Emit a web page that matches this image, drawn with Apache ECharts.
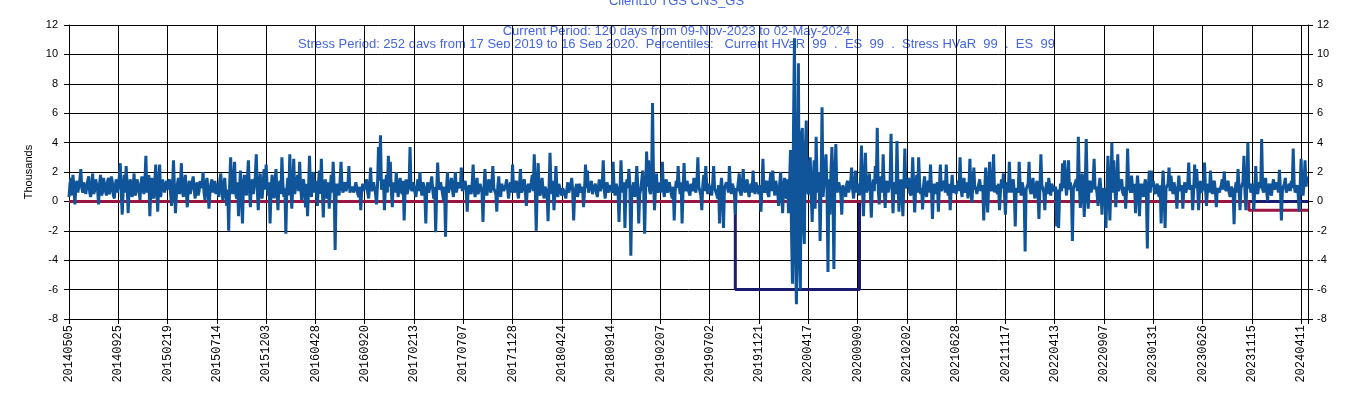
<!DOCTYPE html>
<html>
<head>
<meta charset="utf-8">
<script src="https://cdn.jsdelivr.net/npm/echarts@6/dist/echarts.min.js"></script>
<style>
  html, body { margin: 0; padding: 0; background: #fff; }
  #chart { width: 1353px; height: 398px; }
</style>
</head>
<body>
<div id="chart"></div>
<script>
// x axis runs in business days; one label every 100 days
const TICK_LABELS = ['20140505', '20140925', '20150219', '20150714', '20151203', '20160428',
  '20160920', '20170213', '20170707', '20171128', '20180424', '20180914', '20190207',
  '20190702', '20191121', '20200417', '20200909', '20210202', '20210628', '20211117',
  '20220413', '20220907', '20230131', '20230626', '20231115', '20240411'];
const DAYS_PER_TICK = 100;
const DAYS_PER_POINT = 2;
const TOTAL_DAYS = 2514;

// P&L in thousands, one value per 2 business days (50 values per label interval)
const pnl = [
  0.3,1.2, 1.6,0.4, 1.8,1.0, -0.2,1.1, 1.4,0.6, 0.5,1.5, 2.2,0.9, 0.6,1.3, 1.2,0.5, 0.4,1.4, 1.7,0.6, 0.3,1.0, 1.9,0.5, 0.7,1.5, 1.6,0.8, -0.2,1.2, 1.8,0.4, 0.6,1.6, 1.2,0.7, 0.4,1.3, 1.6,0.5, 0.8,1.7, 1.3,0.4, 0.2,1.1, 1.5,0.6,
  1.0,1.7, 2.6,0.5, -0.9,0.8, 1.8,0.6, 2.4,1.1, -0.8,0.7, 1.5,1.2, 0.3,0.9, 1.9,0.4, 0.6,1.5, 1.4,0.8, 0.1,1.2, 1.7,0.9, 0.5,1.4, 3.1,0.6, 0.9,1.8, -1.0,0.7, 1.6,0.4, 0.2,1.3, 2.5,0.8, -0.7,1.1, 2.5,0.3, 0.4,1.5, 1.6,0.6, 0.7,1.4,
  0.8,1.3, 1.5,0.6, -0.3,1.0, 2.8,0.9, -0.8,0.5, 1.2,1.6, 0.5,1.1, 2.6,0.7, 0.3,1.2, 1.8,0.6, -0.4,0.9, 1.4,0.5, 0.6,1.3, 1.7,0.8, 0.2,1.0, 1.3,0.4, 0.7,1.4, 1.5,0.9, 2.0,0.6, 0.1,1.2, 1.6,0.8, -0.5,0.6, 1.2,1.5, 0.6,1.0, 1.4,0.5,
  1.2,0.7, 0.3,1.4, 1.9,0.8, 0.1,1.1, 1.6,0.5, -0.3,0.8, -2.0,1.2, 3.0,1.0, 0.5,1.5, 2.7,0.6, 0.2,1.3, -1.0,0.9, 2.1,0.4, -1.5,1.1, 1.8,0.7, 0.4,1.6, 2.8,0.9, -0.4,1.2, 1.5,0.5, 0.6,1.7, 3.2,0.8, -0.6,1.0, 1.9,0.4, 0.2,1.3, 2.2,0.8,
  2.5,1.0, 0.4,1.3, -1.5,0.7, 1.8,0.9, 0.2,1.4, 2.2,0.6, -0.6,1.1, 1.4,0.5, 3.0,1.2, 0.3,0.9, -2.2,0.8, 1.6,0.4, 3.2,1.1, -0.5,0.9, 2.9,0.5, 0.6,1.4, 1.8,0.7, 2.7,1.0, 0.1,1.3, 1.5,0.6, -0.4,1.2, -1.0,0.8, 3.1,0.9, 0.3,1.5, 2.0,0.6,
  1.4,0.6, -0.3,1.2, 2.1,0.5, 2.9,0.8, -1.1,0.9, 1.5,0.4, 0.2,1.3, -0.5,0.7, 1.8,0.6, 2.7,1.0, -3.3,0.5, 1.2,0.8, 0.4,1.4, 2.7,0.9, 0.6,1.1, 1.3,0.7, 0.8,1.2, 2.4,0.6, 0.5,1.0, 1.1,0.6, 0.7,1.3, 1.4,0.5, 0.3,1.0, -0.6,0.8, 1.2,0.7,
  0.8,1.2, 1.5,0.6, 0.2,1.0, 2.3,0.7, 0.6,1.3, 1.4,0.5, -0.2,1.1, 3.7,1.4, 4.5,0.8, 0.9,1.5, -0.6,0.9, 1.8,0.6, 3.1,1.0, 2.7,0.7, -0.4,1.3, 1.2,0.6, 2.0,0.9, 0.3,1.2, 1.6,0.7, 0.5,1.4, -1.3,0.8, 1.5,0.5, 0.4,1.1, 3.7,0.9, 0.7,1.3,
  1.2,0.6, 0.3,1.1, 1.5,0.7, 2.0,0.9, 0.4,1.3, 1.1,0.5, -1.5,0.8, 1.3,0.6, 0.6,1.2, 1.7,0.8, 0.2,1.0, -2.1,0.7, 2.65,1.1, 0.8,1.3, 1.4,0.5, 0.1,1.0, -2.4,0.9, 2.0,0.6, 0.5,1.2, 1.6,0.8, 0.3,1.1, 2.0,0.6, 0.7,1.3, 1.4,0.9, 2.3,0.7,
  0.9,1.1, 1.4,0.6, -0.7,0.9, 1.1,0.7, 0.5,1.2, 2.5,0.8, 0.3,1.0, 1.6,0.5, 0.8,1.2, 1.3,0.6, -1.4,0.9, 2.2,0.7, 0.4,1.1, 1.5,0.8, 0.6,1.3, 2.4,0.9, 1.0,0.5, -0.7,1.0, 1.7,0.6, 0.3,1.2, 1.2,0.7, 0.6,1.1, 1.5,0.8, 0.2,1.0, 1.3,0.6,
  2.5,0.9, 0.6,1.2, 1.4,0.7, 0.2,1.1, 2.2,0.6, 0.8,1.3, 1.5,0.5, -0.3,0.9, 1.2,0.6, 0.5,1.3, 1.8,0.7, 3.2,1.0, -2.0,0.8, 2.6,0.6, 0.4,1.2, 1.6,0.7, 0.2,1.0, 1.1,0.6, -1.35,0.9, 3.3,1.1, 0.5,1.4, -0.6,0.7, 2.4,0.9, 0.3,1.2, 1.2,0.6,
  0.4,0.9, 1.0,0.5, 0.2,0.8, 1.3,0.6, 0.6,1.1, 1.6,0.7, -1.3,0.5, 0.9,1.2, 0.3,0.8, 1.2,0.6, 0.5,1.0, -0.4,0.7, 2.5,0.9, 2.1,0.6, 0.6,1.1, 1.4,0.5, 0.8,1.0, 1.2,0.6, 0.3,0.9, 1.5,0.7, 0.6,1.2, 2.8,0.8, 0.2,1.0, 1.3,0.6, 0.7,1.1,
  1.0,0.6, 2.7,0.9, 0.4,1.2, 1.3,0.7, -1.4,0.8, 2.8,1.0, 0.6,1.3, -1.8,0.7, 1.5,0.9, 2.2,1.2, -3.7,0.6, 1.0,1.3, 0.3,0.9, 2.4,1.1, -1.5,0.5, 0.8,1.4, 2.1,0.9, -2.2,0.6, 3.4,1.0, 2.8,0.7, 0.5,1.2, 6.7,1.6, -0.6,0.8, 1.9,0.6, 0.9,1.3,
  0.6,1.1, 2.7,0.8, 0.3,1.2, 1.5,0.6, 0.8,1.3, 1.2,0.5, 0.2,1.0, -1.3,0.7, 1.4,0.9, 2.4,1.1, 0.5,1.3, -1.5,0.8, 2.6,0.9, 0.7,1.4, 1.3,0.6, 0.4,1.2, 1.1,0.7, 1.6,0.9, 0.6,1.3, 3.0,1.0, 0.9,0.4, -0.6,1.1, 1.8,0.7, 2.4,1.0, 0.5,1.2,
  1.3,0.7, 0.4,1.2, 2.4,0.9, 1.0,0.5, 0.2,1.1, -1.5,0.8, 1.6,0.6, -1.8,0.9, 0.8,1.3, 1.4,0.6, 2.4,1.0, 0.5,1.2, 1.2,0.7, -0.9,0.9, 0.7,1.3, 1.9,0.6, 0.4,1.1, 2.2,0.8, 0.6,1.2, 1.5,0.7, 0.3,1.0, 1.2,0.6, 2.1,0.9, 0.5,1.3, 1.3,0.7,
  0.5,1.1, -0.7,0.9, 2.9,0.8, 0.6,1.2, 1.4,0.5, 0.3,1.3, 2.0,0.7, 2.1,1.0, 0.4,1.4, 1.5,0.6, -0.3,1.2, 2.0,0.6, -0.8,1.0, 1.6,0.4, 0.2,1.5, -0.8,1.2, 3.5,-2.0, -5.6,4.9, 11.1,-3.5, -7.0,3.0, 9.4,-4.0, -6.0,4.5, 5.0,-1.5, -2.9,3.5, 5.5,0.8,
  0.5,1.8, 3.0,0.4, -1.4,1.5, 2.8,-0.5, 4.4,1.2, 0.6,2.0, -2.7,1.0, 6.4,0.3, 1.2,2.2, 3.2,0.8, -4.8,1.5, -0.9,2.0, 3.7,0.5, -4.6,1.8, 3.9,0.6, 0.8,1.3, 1.4,0.5, -0.9,1.1, 1.2,0.7, 0.3,1.2, 1.4,0.6, 0.5,1.3, 2.3,0.8, 0.2,1.2, 2.1,0.6,
  1.2,0.7, 0.4,1.5, 3.8,0.9, -1.0,1.2, 3.3,0.6, 0.8,1.4, 1.9,0.5, -1.1,1.0, 1.5,0.7, 2.4,1.2, 5.0,0.8, -0.2,1.1, 1.7,0.6, 3.2,1.0, -0.45,0.9, 1.4,0.6, 0.6,1.3, 4.6,0.9, -0.8,1.0, 1.3,0.5, 4.1,1.1, -0.7,0.8, 1.5,0.6, -1.0,1.2, 3.6,0.9,
  0.8,1.3, 1.6,0.6, 0.4,1.1, 3.0,0.8, -0.75,1.0, 1.8,0.6, 3.0,1.2, 0.5,0.9, -0.55,1.1, 1.7,0.7, 0.3,1.2, 1.4,0.6, 2.5,0.9, -1.2,0.8, 1.2,0.5, 0.6,1.3, -0.7,0.9, 2.5,0.7, 0.9,1.2, 1.4,0.6, 2.5,1.0, 0.4,1.2, -0.6,0.8, 1.8,0.6, 0.7,1.1,
  0.5,1.0, 1.4,0.7, 3.0,0.9, 0.3,1.2, 1.6,0.6, 0.8,1.3, 0.2,1.0, 2.9,0.7, -0.1,1.1, 2.3,0.8, 1.0,0.5, 0.4,1.2, 1.5,0.7, 0.6,1.1, -1.3,0.8, 2.3,0.6, -0.75,1.0, 2.7,0.9, 0.7,1.3, 3.2,0.6, 1.1,0.8, 0.5,1.2, -0.6,0.7, 1.5,0.9, 1.9,0.6,
  -0.9,0.8, 1.3,0.6, 2.7,1.0, 0.6,1.2, 1.5,0.7, -1.7,0.9, 1.0,0.6, 2.7,1.1, 0.4,1.3, 1.2,0.6, -3.4,0.8, 0.9,1.2, 2.7,0.8, 0.5,1.1, 1.6,0.6, 0.2,1.0, 1.4,0.7, -1.2,0.9, 3.2,1.1, 1.0,0.6, -0.6,0.9, 1.3,0.5, 1.6,1.0, 0.4,1.2, 1.1,0.7,
  0.6,1.0, -1.7,0.8, -1.8,0.5, 1.2,0.7, 2.6,0.9, 2.8,1.2, 0.4,1.4, 2.8,0.8, 1.3,0.6, -2.7,0.9, 0.8,1.3, 1.5,0.7, 4.4,1.1, -0.45,0.8, 1.9,0.6, -1.05,1.0, 4.25,0.9, -0.5,1.2, 1.4,0.6, 0.7,1.3, 2.9,0.8, 1.0,0.5, -0.3,1.1, 1.6,0.7, -0.9,0.9,
  0.5,0.9, -1.8,0.7, 3.1,0.8, -1.3,1.0, 4.0,0.6, 2.8,1.1, -0.4,0.9, 3.2,0.7, 1.0,1.3, 1.5,0.6, 0.4,1.0, -0.5,0.8, 3.6,1.1, 1.2,0.6, 1.75,0.9, 0.6,1.2, -0.8,0.7, 1.75,1.0, -1.0,0.6, 1.2,0.8, 0.3,1.1, 1.5,0.7, -3.2,0.9, 2.1,0.6, 2.1,1.0,
  1.4,0.7, 0.5,1.0, 1.2,0.6, 0.3,1.1, -1.5,0.8, 2.1,0.6, -1.8,0.9, 0.8,1.2, 2.3,0.7, 1.75,1.0, 0.5,1.3, 1.2,0.6, -0.5,0.9, 1.75,0.7, 0.6,1.1, -0.5,0.8, 1.3,0.6, 0.7,1.2, 2.65,0.8, 0.9,1.1, -0.6,0.7, 2.5,0.9, 2.2,1.0, -0.6,0.8, 1.4,0.6,
  0.8,1.2, 2.65,0.9, -0.3,0.8, 1.2,0.6, 2.1,1.0, 0.5,1.2, 1.4,0.7, -0.4,0.9, 1.0,0.6, 0.6,1.1, 1.5,0.8, 2.05,0.9, 0.7,1.2, 1.4,0.6, 0.3,1.0, 1.1,0.7, -1.55,0.8, 1.3,0.6, 2.2,1.0, -0.6,0.9, 1.0,1.3, 3.1,0.7, -0.6,1.1, 4.0,0.9, 1.2,0.6,
  0.9,1.2, -0.6,0.8, 2.4,0.7, 0.5,1.1, 1.3,0.9, 4.25,0.8, 0.6,1.2, 1.6,0.7, 0.05,1.0, 1.2,0.6, 0.4,1.1, 1.5,0.8, 0.7,1.3, 1.3,0.6, 2.15,0.9, -1.3,0.7, 1.0,1.2, 1.6,0.6, 0.5,1.0, 1.2,0.7, 1.4,0.9, 3.6,1.1, 0.6,0.9, 1.1,0.5, -0.7,1.0,
  2.9,0.8, 0.4,1.3, 2.8,1.0, 1.7
];

// periods in business days from the first date, with their plotted levels (thousands)
const STRESS_PERIOD = [1352, 1604];
const STRESS_LEVEL = -6.0;
const CURRENT_PERIOD = [2394, 2514];
const CURRENT_LEVEL = -0.6;

const TITLE_TOP = 'Client10 TGS CNS_GS';
const TITLE_LINES = [
  'Current Period: 120 days from 09-Nov-2023 to 02-May-2024',
  'Stress Period: 252 days from 17 Sep 2019 to 16 Sep 2020,  Percentiles:   Current HVaR  99  ,  ES  99  ,  Stress HVaR  99  ,  ES  99'
];

const chart = echarts.init(document.getElementById('chart'), null, { renderer: 'canvas' });

const stressData = [
  [0, 0], [STRESS_PERIOD[0], 0], [STRESS_PERIOD[0], STRESS_LEVEL],
  [STRESS_PERIOD[1], STRESS_LEVEL], [STRESS_PERIOD[1], 0], [TOTAL_DAYS, 0]
];
const currentData = [
  [0, 0], [CURRENT_PERIOD[0], 0], [CURRENT_PERIOD[0], CURRENT_LEVEL], [CURRENT_PERIOD[1], CURRENT_LEVEL]
];

const titleFont = {
  color: '#4466dd',
  fontSize: 13,
  fontWeight: 'normal',
  fontFamily: 'Liberation Sans',
  lineHeight: 13
};

const yAxisBase = {
  type: 'value',
  min: -8,
  max: 12,
  interval: 2,
  axisLine: { show: true, lineStyle: { color: '#000', width: 1 } },
  axisTick: { show: true, length: 5, lineStyle: { color: '#000' } },
  axisLabel: { color: '#000', fontSize: 11, fontFamily: 'Liberation Sans' }
};

chart.setOption({
  animation: false,
  backgroundColor: '#fff',
  title: [
    { text: TITLE_TOP, left: 'center', top: -5, padding: 0, z: -2, textStyle: titleFont },
    { text: TITLE_LINES.join('\n'), left: 'center', top: 25, padding: 0, z: -2, textStyle: titleFont }
  ],
  // the plot hides the lower half of the last title line
  graphic: [{
    type: 'rect',
    z: -1,
    silent: true,
    shape: { x: 69, y: 48, width: 1239, height: 6 },
    style: { fill: '#fff' }
  }],
  grid: { left: 69, right: 45, top: 25, bottom: 79 },
  xAxis: {
    type: 'value',
    min: 0,
    max: TOTAL_DAYS,
    interval: DAYS_PER_TICK,
    axisLine: { show: true, onZero: false, lineStyle: { color: '#000' } },
    axisTick: { show: true, length: 5, lineStyle: { color: '#000' } },
    splitLine: { show: true, lineStyle: { color: '#000', width: 1 } },
    axisLabel: {
      rotate: 90,
      margin: 6,
      color: '#000',
      fontSize: 12,
      fontFamily: 'Liberation Mono',
      formatter: v => (v % DAYS_PER_TICK === 0 ? (TICK_LABELS[v / DAYS_PER_TICK] || '') : '')
    }
  },
  yAxis: [
    Object.assign({}, yAxisBase, {
      position: 'left',
      name: 'Thousands',
      nameLocation: 'middle',
      nameGap: 31,
      nameTextStyle: { color: '#000', fontSize: 11, fontFamily: 'Liberation Sans' },
      axisLabel: Object.assign({}, yAxisBase.axisLabel, { margin: 11 }),
      splitLine: { show: true, lineStyle: { color: '#000', width: 1 } }
    }),
    Object.assign({}, yAxisBase, {
      position: 'right',
      axisLabel: Object.assign({}, yAxisBase.axisLabel, { margin: 9 }),
      splitLine: { show: false }
    })
  ],
  series: [
    {
      name: 'Stress period',
      type: 'line',
      data: stressData,
      symbol: 'none',
      lineStyle: { color: '#1b1b72', width: 3 }
    },
    {
      name: 'Current period',
      type: 'line',
      data: currentData,
      symbol: 'none',
      lineStyle: { color: '#9a1540', width: 3 }
    },
    {
      name: 'P&L',
      type: 'line',
      data: pnl.map((v, i) => [i * DAYS_PER_POINT, v]),
      symbol: 'none',
      lineStyle: { color: '#10559a', width: 3 }
    }
  ]
});
</script>
</body>
</html>
